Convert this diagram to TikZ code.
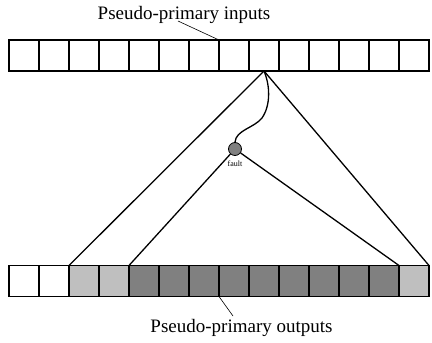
\documentclass[tikz,border=0pt]{standalone}
\usepackage{fontspec}
\setmainfont{Liberation Serif}
\begin{document}
\begin{tikzpicture}[x=1pt,y=-1pt,
  cell/.style={draw, line width=1.6pt, minimum width=30pt, minimum height=31pt, inner sep=0pt, outer sep=0pt},
  light/.style={fill=black!25},
  dark/.style={fill=black!50},
  wire/.style={line width=1.3pt},
  pointer/.style={line width=0.6pt},
  lbl/.style={font=\fontsize{19}{22}\selectfont, inner sep=0pt},
  faultdot/.style={circle, draw, line width=0.8pt, fill=black!50, minimum size=13pt, inner sep=0pt}]
\useasboundingbox (0,0) rectangle (432,343);
% top row
\foreach \i in {0,...,13} {
  \node[cell] (t\i) at ({24+30*\i},55.5) {};
}
% bottom row
\foreach \i in {0,1} {
  \node[cell] (b\i) at ({24+30*\i},281) {};
}
\foreach \i in {2,3,13} {
  \node[cell,light] (b\i) at ({24+30*\i},281) {};
}
\foreach \i in {4,...,12} {
  \node[cell,dark] (b\i) at ({24+30*\i},281) {};
}
% fault
\node[faultdot] (f) at (235,149) {};
\node[font=\fontsize{8}{9}\selectfont, inner sep=0pt] (flbl) at (235,164) {fault};
% cone lines
\draw[wire] (t8.south) -- (b2.north west);
\draw[wire] (t8.south) -- (b13.north east);
\draw[wire] (f) -- (b4.north west);
\draw[wire] (f) -- (b13.north west);
\draw[wire] (t8.south) .. controls (270,85) and (271,105) .. (262,118)
                       .. controls (254,128) and (236,130) .. (f.north);
% labels
\node[lbl] (inl) at (184,15) {Pseudo-primary inputs};
\coordinate (inp) at (178,21);
\draw[pointer] (inp) -- (t7.north west);
\node[lbl] (outl) at (241.5,328) {Pseudo-primary outputs};
\coordinate (outp) at (233,316);
\draw[pointer] (b7.south west) -- (outp);
\end{tikzpicture}
\end{document}
